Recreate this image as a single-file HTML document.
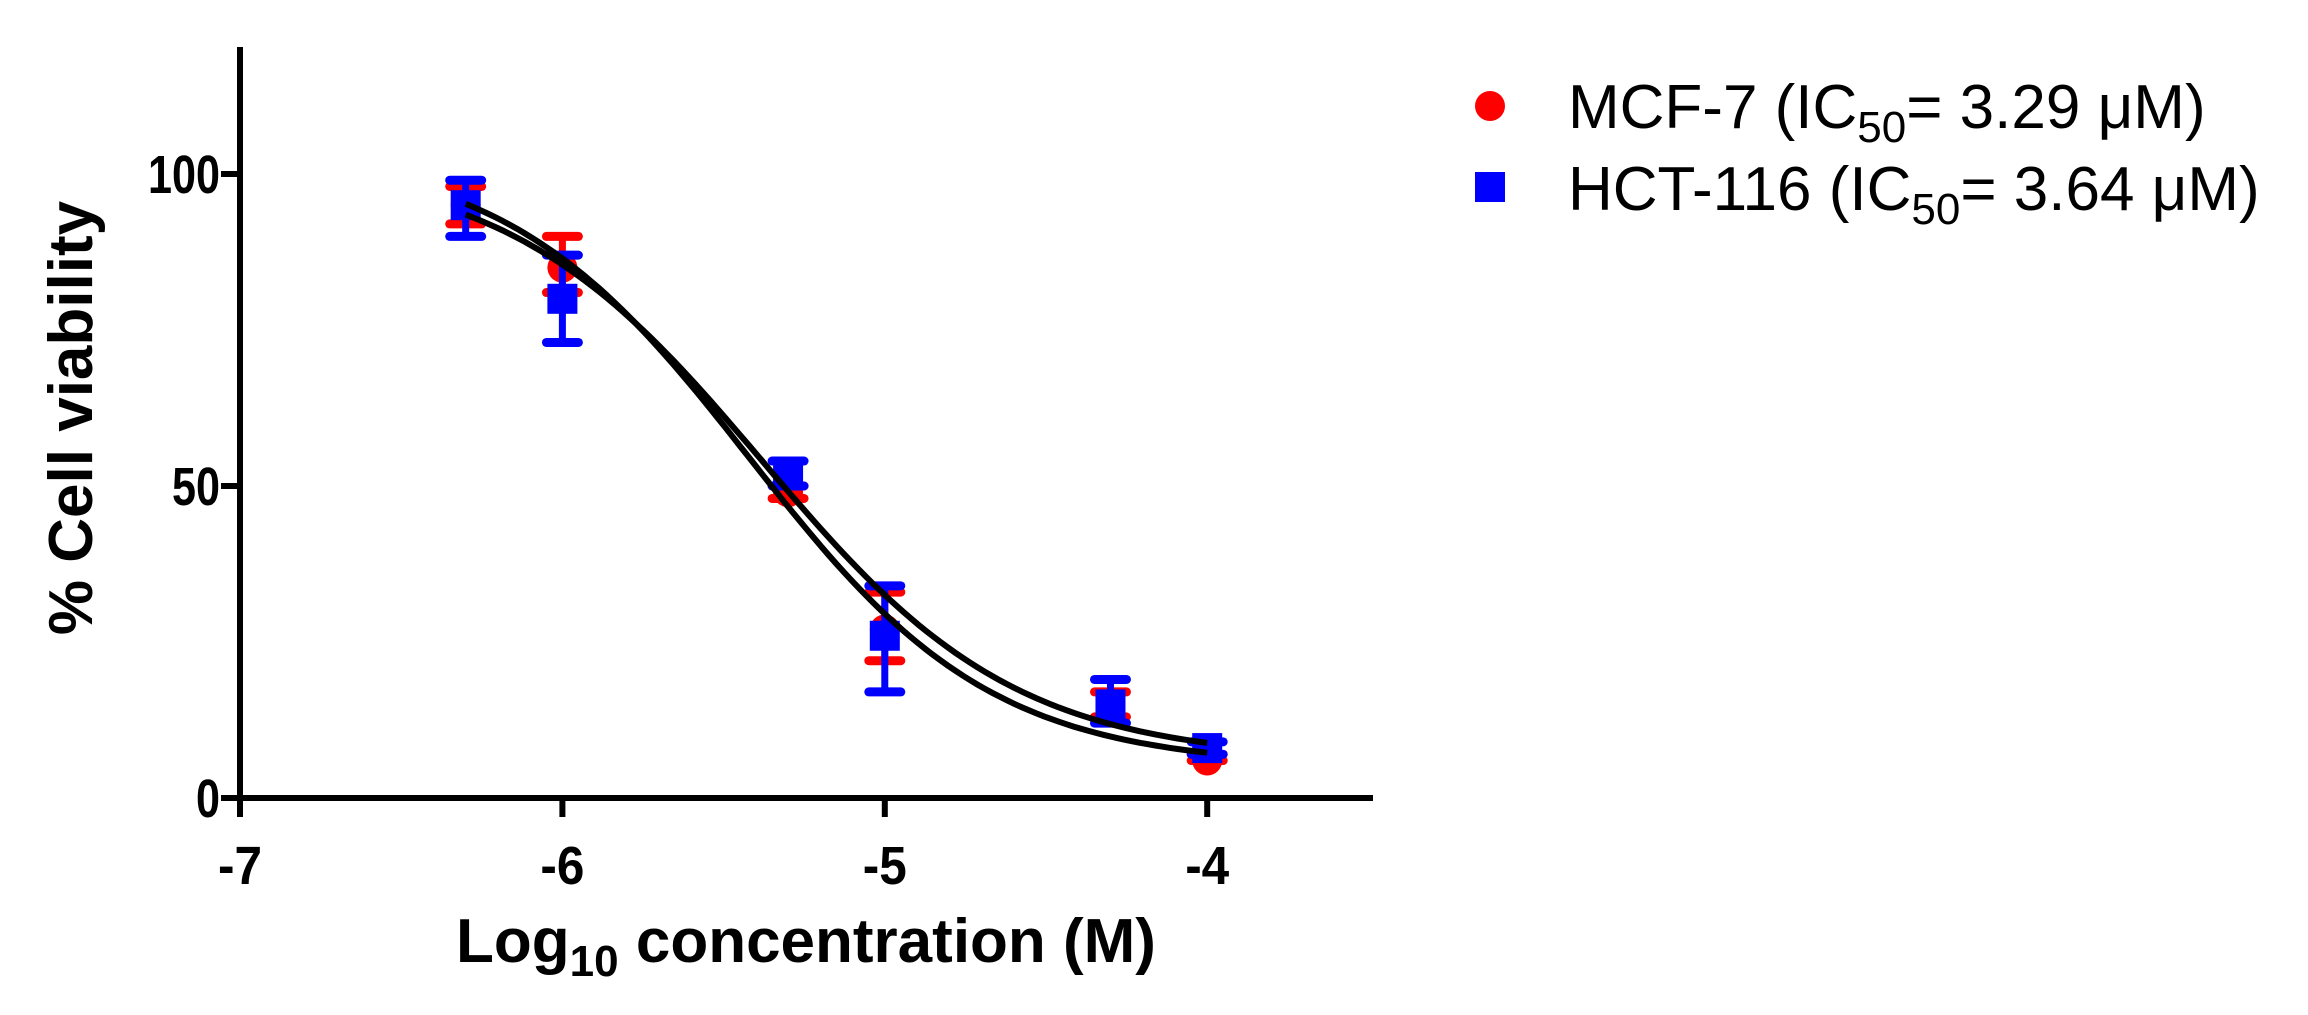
<!DOCTYPE html>
<html><head><meta charset="utf-8"><style>body{margin:0;background:#fff}svg{display:block}</style></head>
<body>
<svg id="chart" width="2308" height="1015" xmlns="http://www.w3.org/2000/svg" font-family="Liberation Sans, sans-serif">
<g id="axes"></g><g id="curves"></g><g id="marks"></g>
<text transform="translate(92,418) rotate(-90)" text-anchor="middle" font-size="62" font-weight="bold">%  Cell viability</text>
<text x="806" y="962" text-anchor="middle" font-size="62" font-weight="bold">Log<tspan font-size="44" dy="14">10</tspan><tspan dy="-14"> concentration (M)</tspan></text>
<g font-size="62">
<circle cx="1490" cy="106" r="15" fill="#ff0000"/>
<text x="1568" y="128">MCF-7 (IC<tspan font-size="44" dy="14">50</tspan><tspan dy="-14">= 3.29 μM)</tspan></text>
<rect x="1475" y="172" width="30" height="30" fill="#0000ff"/>
<text x="1568" y="210">HCT-116 (IC<tspan font-size="44" dy="14">50</tspan><tspan dy="-14">= 3.64 μM)</tspan></text>
</g>
</svg>
<script>
const xVals=[-6.3,-6,-5.3,-5,-4.3,-4];
const mcfMean=[95,85,49,27,15,6];
const mcfLo=[92,81,48,22,13,6];
const mcfHi=[98,90,50,33,17,7];
const hctMean=[95,80,52,26,15,8];
const hctLo=[90,73,50,17,12,7];
const hctHi=[99,87,54,34,19,9];
const xTicks=[-7,-6,-5,-4];
const yTicks=[0,50,100];
const fitA=[102,6,-5.38,1.1];
const fitB=[104,5,-5.42,1.15];
const NS='http://www.w3.org/2000/svg';
const X=v=>240+(v+7)*322.4;
const Y=v=>798-v*6.24;
function mk(t,a,p){const e=document.createElementNS(NS,t);for(const k in a)e.setAttribute(k,a[k]);p.appendChild(e);return e;}
const ax=document.getElementById('axes');
let e=mk('line',{x1:240,y1:47,x2:240,y2:817,stroke:'#000','stroke-width':6},ax);


e=mk('line',{x1:221,y1:798,x2:1373,y2:798,stroke:'#000','stroke-width':6},ax);


xTicks.forEach(t=>{
 const l=mk('line',{x1:X(t),y1:798,x2:X(t),y2:817,stroke:'#000','stroke-width':6},ax);
 
 
 const s=String(t);
 const tx=mk('text',{x:X(t),y:884,'text-anchor':'middle','font-size':54,'font-weight':'bold',textLength:s.length*22,lengthAdjust:'spacingAndGlyphs'},ax);tx.textContent=s;
 
 
});
yTicks.forEach(t=>{
 const l=mk('line',{x1:221,y1:Y(t),x2:240,y2:Y(t),stroke:'#000','stroke-width':6},ax);
 
 
 const s=String(t);
 const tx=mk('text',{x:220,y:Y(t)+19,'text-anchor':'end','font-size':54,'font-weight':'bold',textLength:s.length*24,lengthAdjust:'spacingAndGlyphs'},ax);tx.textContent=s;
 
 
});
const cv=document.getElementById('curves');
[fitA,fitB].forEach((f,i)=>{
 let d='';
 for(let k=0;k<=100;k++){const x=-6.3+2.3*k/100;const y=f[1]+(f[0]-f[1])/(1+Math.pow(10,f[3]*(x-f[2])));d+=(k?'L':'M')+X(x).toFixed(1)+','+Y(y).toFixed(1);}
 const p=mk('path',{d:d,fill:'none',stroke:'#000','stroke-width':6},cv);
 
 
});
const mg=document.getElementById('marks');
function series(m,lo,hi,col,sq,name){
 xVals.forEach((x,i)=>{
  const g=mk('g',{},mg);
  
  
  mk('line',{x1:X(x),y1:Y(lo[i]),x2:X(x),y2:Y(hi[i]),stroke:col,'stroke-width':7},g);
  [lo[i],hi[i]].forEach(v=>mk('line',{x1:X(x)-16,y1:Y(v),x2:X(x)+16,y2:Y(v),stroke:col,'stroke-width':9,'stroke-linecap':'round'},g));
  if(sq)mk('rect',{x:X(x)-15,y:Y(m[i])-15,width:30,height:30,fill:col},g);
  else mk('circle',{cx:X(x),cy:Y(m[i]),r:15,fill:col},g);
 });
}
series(mcfMean,mcfLo,mcfHi,'#ff0000',false,'mcf7');
series(hctMean,hctLo,hctHi,'#0000ff',true,'hct116');
mg.parentNode.insertBefore(mg,cv);
</script>
</body></html>
